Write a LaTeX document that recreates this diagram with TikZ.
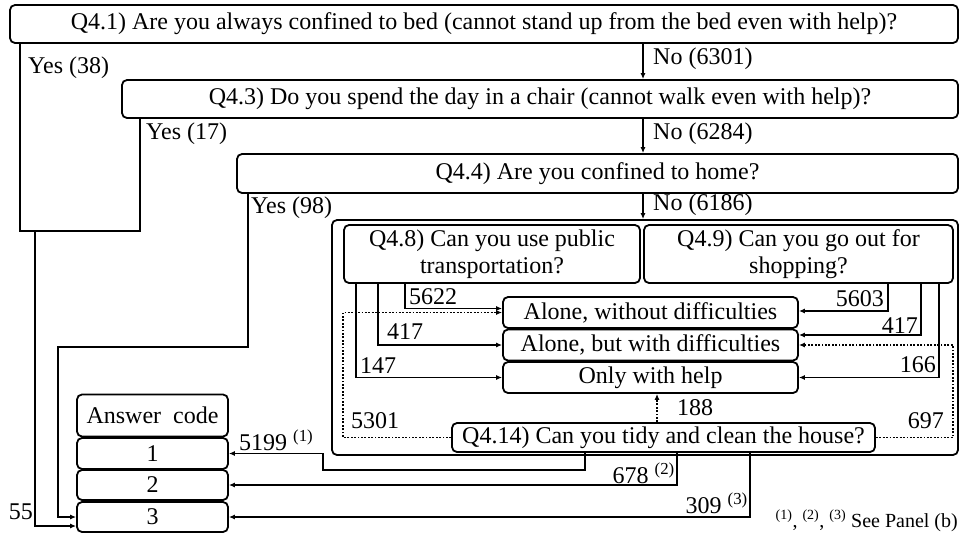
\documentclass[tikz,border=0pt]{standalone}
\usepackage{fontspec}
\setmainfont{Liberation Serif}
\usetikzlibrary{arrows.meta,calc}

\tikzset{
  qbox/.style={draw,rounded corners=5pt,line width=1.8pt,inner sep=0pt,align=center},
  conn/.style={line width=1.5pt,-{Latex[length=6pt,width=5pt]}},
  dconn/.style={conn,dash pattern=on 1.8pt off 1.6pt},
  lbl/.style={inner sep=0pt},
}

\begin{document}
\begin{tikzpicture}[x=1pt,y=-1pt,font=\fontsize{24}{27}\selectfont]
\useasboundingbox (0,0) rectangle (961,536);
% question boxes
\node[qbox,minimum width=948pt,minimum height=38pt] (q41) at (484,24) {Q4.1) Are you always confined to bed (cannot stand up from the bed even with help)?};
\node[qbox,minimum width=836pt,minimum height=38pt] (q43) at (540,99) {Q4.3) Do you spend the day in a chair (cannot walk even with help)?};
\node[qbox,minimum width=721pt,minimum height=39pt] (q44) at (597.5,173.5) {Q4.4) Are you confined to home?};
\node[qbox,minimum width=626pt,minimum height=235pt] (grp) at (645,337.5) {};
\node[qbox,minimum width=296pt,minimum height=58pt] (q48) at (492,254) {Q4.8) Can you use public\\transportation?};
\node[qbox,minimum width=309pt,minimum height=58pt] (q49) at (798.5,254) {Q4.9) Can you go out for\\shopping?};
\node[qbox,minimum width=295pt,minimum height=31pt] (opt1) at (650.5,312.5) {Alone, without difficulties};
\node[qbox,minimum width=295pt,minimum height=31pt] (opt2) at (650.5,345) {Alone, but with difficulties};
\node[qbox,minimum width=295pt,minimum height=31pt] (opt3) at (650.5,377.5) {Only with help};
\node[qbox,minimum width=423pt,minimum height=29pt] (q414) at (663.5,437.5) {Q4.14) Can you tidy and clean the house?};
% answer codes
\node[qbox,minimum width=151pt,minimum height=42pt] (ans) at (152.5,415.5) {Answer\ \ code};
\node[qbox,minimum width=151pt,minimum height=31pt] (a1) at (152.5,453.5) {1};
\node[qbox,minimum width=151pt,minimum height=30pt] (a2) at (152.5,485) {2};
\node[qbox,minimum width=151pt,minimum height=30pt] (a3) at (152.5,517) {3};

% No branches
\coordinate (nx) at (643,0);
\draw[conn] (q41.south -| nx) -- (q43.north -| nx);
\draw[conn] (q43.south -| nx) -- (q44.north -| nx);
\draw[conn] (q44.south -| nx) -- (grp.north -| nx);
\node[lbl,anchor=west] (n1) at (653,59) {No (6301)};
\node[lbl,anchor=west] (n2) at (653,134) {No (6284)};
\node[lbl,anchor=west] (n3) at (653,205) {No (6186)};

% Yes branches
\coordinate (y1) at (20,231);
\coordinate (y2) at (140,231);
\coordinate (y3) at (35,231);
\draw[line width=1.5pt] (q41.south -| y1) -- (y1) -- (y2) -- (q43.south -| y2);
\draw[conn] (y3) |- ($(a3.west)+(0,9)$);
\coordinate (y4) at (248,347);
\coordinate (y5) at (58,347);
\draw[conn] (q44.south -| y4) -- (y4) -- (y5) |- (a3.west);
\node[lbl,anchor=west] (yes1) at (28,68) {Yes (38)};
\node[lbl,anchor=west] (yes2) at (146,134) {Yes (17)};
\node[lbl,anchor=west] (yes3) at (251,208) {Yes (98)};
\node[lbl,anchor=east] (c55) at (33,512) {55};

% Q4.8 and Q4.9 answers
\coordinate (p1) at (405,0);
\coordinate (p2) at (378,0);
\coordinate (p3) at (356,0);
\draw[conn] (q48.south -| p1) |- ($(opt1.west)+(0,-4)$);
\draw[conn] (q48.south -| p2) |- (opt2.west);
\draw[conn] (q48.south -| p3) |- (opt3.west);
\node[lbl,anchor=west] (c5622) at (409,297) {5622};
\node[lbl,anchor=west] (c417a) at (387,332) {417};
\node[lbl,anchor=west] (c147) at (360,366) {147};
\coordinate (s1) at (888,0);
\coordinate (s2) at (921,0);
\coordinate (s3) at (939,0);
\draw[conn] (q49.south -| s1) |- ($(opt1.east)+(0,-1.5)$);
\draw[conn] (q49.south -| s2) |- ($(opt2.east)+(0,-10)$);
\draw[conn] (q49.south -| s3) |- (opt3.east);
\node[lbl,anchor=east] (c5603) at (884,299) {5603};
\node[lbl,anchor=east] (c417b) at (918,326) {417};
\node[lbl,anchor=east] (c166) at (936,365) {166};

% Q4.14 answers
\coordinate (d1) at (953,0);
\coordinate (d2) at (343,0);
\coordinate (d3) at (657,0);
\draw[dconn] (q414.east) -| (d1 |- opt2.east) -- (opt2.east);
\draw[dconn] (q414.west) -| (d2 |- opt1.west) -- (opt1.west);
\draw[dconn] (q414.north -| d3) -- (opt3.south -| d3);
\node[lbl,anchor=east] (c697) at (944,421) {697};
\node[lbl,anchor=west] (c5301) at (351,421) {5301};
\node[lbl,anchor=west] (c188) at (677,408) {188};

% to answer codes
\coordinate (k1) at (585,470);
\coordinate (k2) at (323,470);
\coordinate (k3) at (677,0);
\coordinate (k4) at (750,0);
\draw[conn] (q414.south -| k1) -- (k1) -- (k2) |- (a1.east);
\draw[conn] (q414.south -| k3) |- (a2.east);
\draw[conn] (q414.south -| k4) |- (a3.east);
\node[lbl,anchor=west] (c5199) at (239,440) {5199 \textsuperscript{(1)}};
\node[lbl,anchor=east] (c678) at (675,473) {678 \textsuperscript{(2)}};
\node[lbl,anchor=east] (c309) at (748,503) {309 \textsuperscript{(3)}};
\node[lbl,anchor=east,font=\fontsize{20}{24}\selectfont] (note) at (958,521) {\textsuperscript{(1)}, \textsuperscript{(2)}, \textsuperscript{(3)} See Panel (b)};
\end{tikzpicture}
\end{document}
